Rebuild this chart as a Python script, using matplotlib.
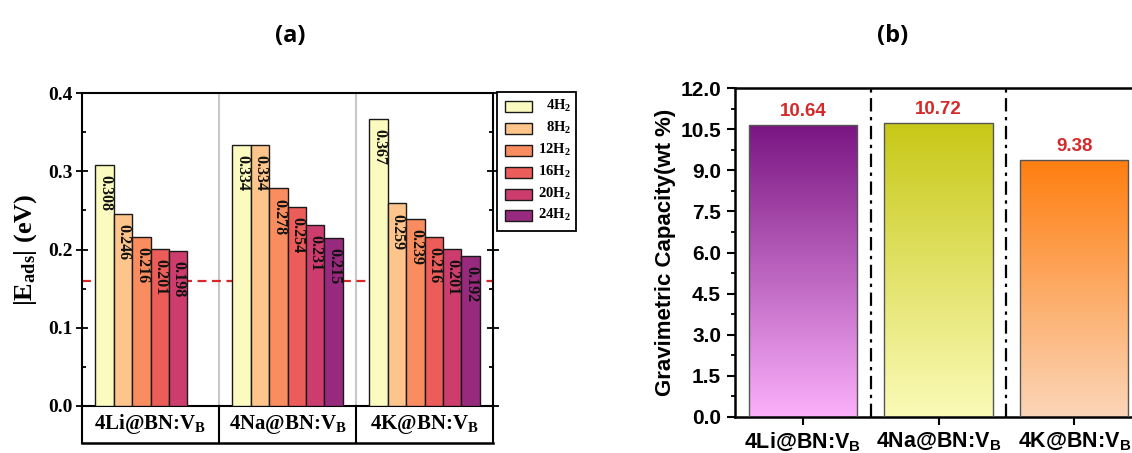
import numpy as np
import matplotlib
matplotlib.use("Agg")
import matplotlib.pyplot as plt
from matplotlib.patches import Rectangle
from matplotlib.colors import LinearSegmentedColormap

# ---------------- data ----------------
systems = ["4Li@BN:V", "4Na@BN:V", "4K@BN:V"]
h2_labels = ["4H$_\\mathregular{2}$", "8H$_\\mathregular{2}$", "12H$_\\mathregular{2}$",
             "16H$_\\mathregular{2}$", "20H$_\\mathregular{2}$", "24H$_\\mathregular{2}$"]
eads_li = [0.308, 0.246, 0.216, 0.201, 0.198, None]
eads_na = [0.334, 0.334, 0.278, 0.254, 0.231, 0.215]
eads_k = [0.367, 0.259, 0.239, 0.216, 0.201, 0.192]
threshold = 0.16
capacity = [10.64, 10.72, 9.38]

bar_colors = ["#FBFBBF", "#FDC58B", "#F98D5F", "#EC5D5A", "#CC3D6E", "#982A7D"]
grad_top = ["#7A1682", "#C8C818", "#FF7E10"]
grad_bot = ["#FBB0FB", "#FBFBB8", "#FBD6B8"]

serif = "Liberation Serif"
sans = "Liberation Sans"
plt.rcParams["mathtext.fontset"] = "custom"
plt.rcParams["mathtext.rm"] = "Liberation Serif:bold"
plt.rcParams["mathtext.it"] = "Liberation Serif:bold"
plt.rcParams["mathtext.bf"] = "Liberation Serif:bold"

fig = plt.figure(figsize=(11.32, 4.53), dpi=100)
W, H = 1132, 453

def ax_rect(l, t, r, b):
    return [l / W, 1 - b / H, (r - l) / W, (b - t) / H]

# overlay axes in pixel coordinates (for legend)
ov = fig.add_axes([0, 0, 1, 1], zorder=10)
ov.set_xlim(0, W)
ov.set_ylim(H, 0)
ov.axis("off")

# ---------------- panel (a) ----------------
axa = fig.add_axes(ax_rect(82, 93, 493, 406))
series = [eads_li, eads_na, eads_k]
nbar = 6
bw = 0.134
xs = np.arange(len(systems))
for si, vals in enumerate(series):
    for bi, v in enumerate(vals):
        if v is None:
            continue
        x = xs[si] + (bi - (nbar - 1) / 2) * bw
        axa.bar(x, v, width=bw, color=bar_colors[bi], edgecolor="#1a1a1a",
                linewidth=1.0, zorder=3)
        axa.text(x + 0.005, v - 0.013, f"{v:.3f}", rotation=270, ha="center", va="top",
                 fontsize=11.5, fontweight="bold", family=serif, color="#111111",
                 zorder=4)

axa.axhline(threshold, color="#D62828", linestyle=(0, (4, 2.5)), linewidth=1.6, zorder=1)
for d in [0.5, 1.5]:
    axa.axvline(d, color="#C8C8C8", linewidth=1.5, zorder=0)

axa.set_xlim(-0.5, 2.5)
axa.set_ylim(0, 0.4)
axa.set_yticks([0, 0.1, 0.2, 0.3, 0.4])
axa.set_yticks(np.arange(0.05, 0.4, 0.1), minor=True)
axa.set_yticklabels(["0.0", "0.1", "0.2", "0.3", "0.4"], fontsize=14,
                    fontweight="bold", family=serif)
axa.set_xticks([])
axa.tick_params(axis="y", which="major", direction="inout", length=8, width=1.3,
                right=True, pad=3)
axa.tick_params(axis="y", which="minor", direction="in", length=3, width=1.3, right=True)
for s in axa.spines.values():
    s.set_linewidth(1.5)
axa.set_ylabel("|E$_\\mathregular{ads}$| (eV)", fontsize=19, fontweight="bold",
               family=serif, labelpad=6)

# category box under panel (a)
boxh = (443 - 406) / (406 - 93)
tr = axa.transAxes
for xv in [0, 1]:
    axa.plot([xv, xv], [0, -boxh], transform=tr, color="black", lw=1.5, clip_on=False)
axa.plot([0, 1], [-boxh, -boxh], transform=tr, color="black", lw=1.8, clip_on=False)
for d in [0.5, 1.5]:
    axa.plot([(d + 0.5) / 3] * 2, [0, -boxh], transform=tr, color="black", lw=1.5,
             clip_on=False)
for i, s in enumerate(systems):
    axa.text((i + 0.5) / 3, -boxh / 2, s + "$_\\mathregular{B}$", transform=tr,
             ha="center", va="center", fontsize=15, fontweight="bold", family=serif)

# legend drawn manually (pixel coordinates)
ov.add_patch(Rectangle((497, 92), 79, 139, facecolor="white", edgecolor="black",
                       linewidth=1.3))
leg_y = [106, 128, 150, 172, 194, 215]
for c, lab, yy in zip(bar_colors, h2_labels, leg_y):
    ov.add_patch(Rectangle((505, yy - 5.5), 27, 11, facecolor=c, edgecolor="#1a1a1a",
                           linewidth=1.0))
    ov.text(571, yy, lab, ha="right", va="center", fontsize=10.5, fontweight="bold",
            family=serif)

fig.text(290 / W, 1 - 36 / H, "(a)", ha="center", va="center", fontsize=17,
         fontweight="bold", family="Open Sans")
fig.text(893 / W, 1 - 36 / H, "(b)", ha="center", va="center", fontsize=17,
         fontweight="bold", family="Open Sans")

# ---------------- panel (b) ----------------
axb = fig.add_axes(ax_rect(735, 88, 1142, 417))
bw2 = 0.8
bars = axb.bar(xs, capacity, width=bw2, color="none", edgecolor="#555555",
               linewidth=1.0, zorder=3)
for i, (b, v) in enumerate(zip(bars, capacity)):
    cmap = LinearSegmentedColormap.from_list(f"g{i}", [grad_bot[i], grad_top[i]])
    grad = np.linspace(0, 1, 256).reshape(-1, 1)
    x0 = xs[i] - bw2 / 2
    im = axb.imshow(grad, extent=(x0, x0 + bw2, 0, v), origin="lower", cmap=cmap,
                    aspect="auto", zorder=2)
    im.set_clip_path(b)
    axb.text(xs[i], v + 0.18, f"{v:.2f}", ha="center", va="bottom", fontsize=13.5,
             fontweight="bold", family=sans, color="#D42A2A")

for d in [0.5, 1.5]:
    axb.axvline(d, color="black", linestyle=(0, (6, 2.5, 1.5, 2.5)), linewidth=1.6,
                zorder=1)

axb.set_xlim(-0.5, 2.5)
axb.set_ylim(0, 12)
yt = np.arange(0, 12.01, 1.5)
axb.set_yticks(yt)
axb.set_yticklabels([f"{v:.1f}" for v in yt], fontsize=15, fontweight="bold",
                    family=sans)
axb.set_yticks(np.arange(0.75, 12, 1.5), minor=True)
axb.set_xticks(xs)
axb.set_xticklabels([s + "$_\\mathregular{B}$" for s in systems], fontsize=15.5,
                    fontweight="bold", family=sans)
axb.tick_params(axis="both", which="major", direction="out", length=6, width=1.5, pad=4)
axb.tick_params(axis="y", which="minor", direction="out", length=3, width=1.3)
for s in axb.spines.values():
    s.set_linewidth(1.8)
axb.set_ylabel("Gravimetric Capacity(wt %)", fontsize=16, fontweight="bold",
               family=sans, labelpad=3)

fig.savefig("out.png", dpi=100)
